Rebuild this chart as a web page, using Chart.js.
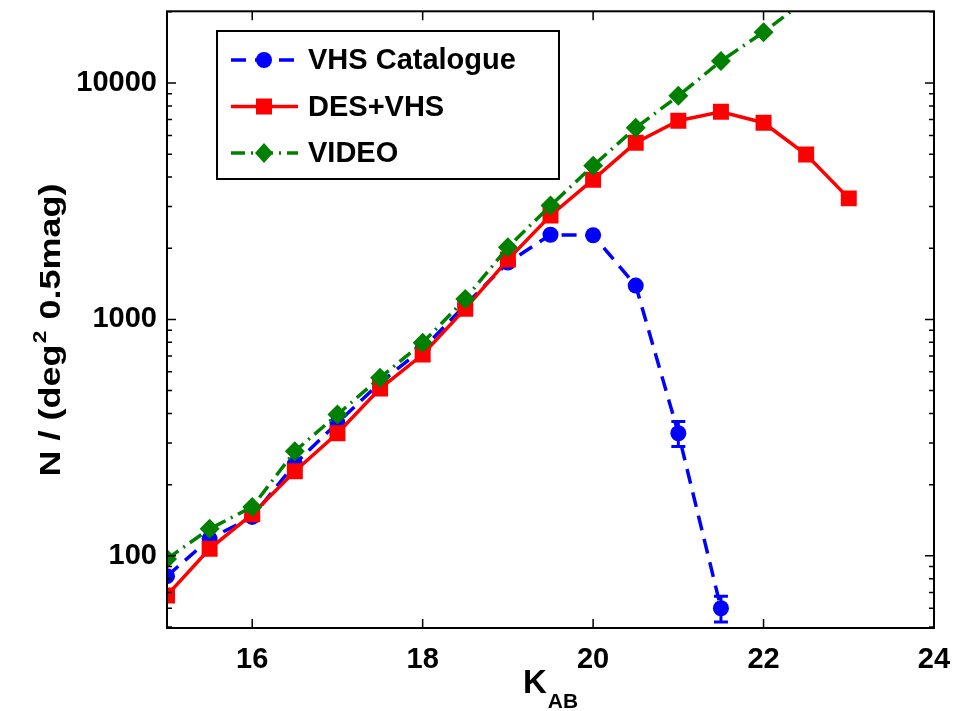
<!DOCTYPE html>
<html>
<head>
<meta charset="utf-8">
<script src="https://cdn.jsdelivr.net/npm/chart.js"></script>
<style>
  html, body { margin: 0; padding: 0; background: #fff; }
  #wrap { width: 971px; height: 711px; }
</style>
</head>
<body>
<div id="wrap"><canvas id="countsChart"></canvas></div>
<script>
// K_AB magnitude bins
const mags = [15, 15.5, 16, 16.5, 17, 17.5, 18, 18.5, 19, 19.5, 20, 20.5, 21, 21.5, 22, 22.5, 23];
// number counts per deg^2 per 0.5 mag
const vhsCounts = [82, 118, 146, 245, 365, 540, 750, 1150, 1740, 2280, 2270, 1390, 330, 60];
const vhsErrors = [0, 0, 0, 0, 0, 0, 0, 0, 0, 0, 0, 0, 40, 7.5];
const desVhsCounts = [68, 107, 150, 228, 330, 510, 710, 1110, 1790, 2750, 3900, 5590, 6920, 7550, 6790, 4980, 3250];
const videoCounts = [97, 130, 161, 277, 396, 567, 796, 1220, 2020, 3030, 4470, 6460, 8820, 12380, 16400, 22500];
const xTicks = [16, 18, 20, 22, 24];
const yTicks = [100, 1000, 10000];
const seriesNames = ['VHS Catalogue', 'DES+VHS', 'VIDEO'];

const FONT = "'Liberation Sans', Arial, Helvetica, sans-serif";
const BLUE = 'rgb(0,0,255)', RED = 'rgb(255,0,0)', GREEN = 'rgb(0,128,0)';
const DASH_BLUE = [15, 9], DASH_GREEN = [14, 6, 2, 6];

function toPoints(vals) {
    return vals.map((v, i) => ({ x: mags[i], y: v }));
}

function marker(ctx, style, x, y, color) {
    ctx.save();
    ctx.setLineDash([]);
    ctx.fillStyle = color;
    ctx.beginPath();
    if (style === 'circle') ctx.arc(x, y, 8, 0, Math.PI * 2);
    else if (style === 'rect') ctx.rect(x - 8, y - 8, 16, 16);
    else { ctx.moveTo(x, y - 10); ctx.lineTo(x + 9, y); ctx.lineTo(x, y + 10); ctx.lineTo(x - 9, y); ctx.closePath(); }
    ctx.fill();
    ctx.restore();
}

const decorations = {
    id: 'decorations',
    afterDatasetsDraw(chart) {
        // error bars on the VHS points
        const { ctx, chartArea: a, scales: { x, y } } = chart;
        ctx.save();
        ctx.beginPath();
        ctx.rect(a.left, a.top, a.right - a.left, a.bottom - a.top);
        ctx.clip();
        ctx.strokeStyle = BLUE;
        ctx.lineWidth = 3;
        vhsCounts.forEach((v, i) => {
            const e = vhsErrors[i];
            if (!e) return;
            const px = x.getPixelForValue(mags[i]);
            const hi = y.getPixelForValue(v + e), lo = y.getPixelForValue(v - e);
            ctx.beginPath();
            ctx.moveTo(px, hi); ctx.lineTo(px, lo);
            ctx.moveTo(px - 7, hi); ctx.lineTo(px + 7, hi);
            ctx.moveTo(px - 7, lo); ctx.lineTo(px + 7, lo);
            ctx.stroke();
        });
        ctx.restore();
    },
    afterDraw(chart) {
        const { ctx, chartArea: a, scales: { x, y } } = chart;
        ctx.save();
        ctx.strokeStyle = '#000';
        ctx.lineWidth = 1.5;
        ctx.beginPath();
        xTicks.forEach(v => {
            const px = x.getPixelForValue(v);
            ctx.moveTo(px, a.bottom); ctx.lineTo(px, a.bottom - 9);
            ctx.moveTo(px, a.top); ctx.lineTo(px, a.top + 9);
        });
        for (let d = 10; d <= 10000; d *= 10) {
            for (let m = 1; m < 10; m++) {
                const v = d * m;
                if (v < y.min || v > y.max) continue;
                const py = y.getPixelForValue(v);
                const len = m === 1 ? 9 : 5;
                ctx.moveTo(a.left, py); ctx.lineTo(a.left + len, py);
                ctx.moveTo(a.right, py); ctx.lineTo(a.right - len, py);
            }
        }
        ctx.stroke();
        ctx.lineWidth = 2;
        ctx.strokeRect(a.left, a.top, a.right - a.left, a.bottom - a.top);

        // legend
        const lx = 217, ly = 31, lw = 342, lh = 148;
        ctx.fillStyle = '#fff';
        ctx.fillRect(lx, ly, lw, lh);
        ctx.strokeRect(lx, ly, lw, lh);
        const styles = [
            { color: BLUE, dash: DASH_BLUE, pt: 'circle' },
            { color: RED, dash: [], pt: 'rect' },
            { color: GREEN, dash: DASH_GREEN, pt: 'rectRot' }
        ];
        ctx.font = 'bold 29px ' + FONT;
        ctx.textBaseline = 'middle';
        styles.forEach((s, i) => {
            const yy = 60 + i * 46.5;
            ctx.strokeStyle = s.color;
            ctx.lineWidth = 3.5;
            ctx.setLineDash(s.dash);
            ctx.beginPath();
            ctx.moveTo(231, yy); ctx.lineTo(298, yy);
            ctx.stroke();
            ctx.setLineDash([]);
            marker(ctx, s.pt, 264, yy, s.color);
            ctx.fillStyle = '#000';
            ctx.fillText(seriesNames[i], 308, yy + 1);
        });

        // x title with subscript
        ctx.fillStyle = '#000';
        ctx.textBaseline = 'alphabetic';
        ctx.font = 'bold 33px ' + FONT;
        const kW = ctx.measureText('K').width;
        ctx.font = 'bold 21px ' + FONT;
        const abW = ctx.measureText('AB').width;
        const cx = (a.left + a.right) / 2;
        const x0 = cx - (kW + abW + 1) / 2;
        ctx.font = 'bold 33px ' + FONT;
        ctx.fillText('K', x0, 693);
        ctx.font = 'bold 21px ' + FONT;
        ctx.fillText('AB', x0 + kW + 1, 708);

        // y title with superscript, rotated (stretched along its length like the original)
        ctx.translate(60, 330);
        ctx.rotate(-Math.PI / 2);
        ctx.scale(1.2, 1);
        const big = 'bold 30px ' + FONT, small = 'bold 19px ' + FONT;
        ctx.font = big;
        const p1 = 'N / (deg', p3 = ' 0.5mag)';
        const w1 = ctx.measureText(p1).width, w3 = ctx.measureText(p3).width;
        ctx.font = small;
        const w2 = ctx.measureText('2').width + 2;
        let tx = -(w1 + w2 + w3) / 2;
        ctx.font = big;
        ctx.fillText(p1, tx, 0);
        ctx.font = small;
        ctx.fillText('2', tx + w1 + 1, -14);
        ctx.font = big;
        ctx.fillText(p3, tx + w1 + w2, 0);
        ctx.restore();
    }
};

const ctx = document.getElementById('countsChart').getContext('2d');

new Chart(ctx, {
    type: 'line',
    data: {
        datasets: [{
            label: seriesNames[0],
            data: toPoints(vhsCounts),
            borderColor: BLUE,
            backgroundColor: BLUE,
            borderWidth: 3.5,
            borderDash: DASH_BLUE,
            pointStyle: 'circle',
            pointRadius: 8,
            pointBorderWidth: 0,
            order: 2,
            clip: 0
        }, {
            label: seriesNames[1],
            data: toPoints(desVhsCounts),
            borderColor: RED,
            backgroundColor: RED,
            borderWidth: 3.5,
            pointStyle: 'rect',
            pointRadius: 11.3,
            pointBorderWidth: 0,
            order: 1,
            clip: 0
        }, {
            label: seriesNames[2],
            data: toPoints(videoCounts),
            borderColor: GREEN,
            backgroundColor: GREEN,
            borderWidth: 3.5,
            borderDash: DASH_GREEN,
            pointStyle: 'rectRot',
            pointRadius: 10,
            pointBorderWidth: 0,
            order: 0,
            clip: 0
        }]
    },
    options: {
        responsive: true,
        maintainAspectRatio: false,
        animation: false,
        layout: { padding: { top: 6, right: 37, left: 0, bottom: 0 } },
        plugins: { legend: { display: false }, tooltip: { enabled: false } },
        elements: { line: { tension: 0 } },
        scales: {
            x: {
                type: 'linear',
                min: 15,
                max: 24,
                grid: { display: false, drawTicks: false },
                border: { display: false },
                afterBuildTicks: s => { s.ticks = xTicks.map(v => ({ value: v })); },
                afterFit: s => { s.height = 83; s.paddingLeft = 0; s.paddingRight = 0; },
                ticks: {
                    color: '#000',
                    padding: 15,
                    font: { family: FONT, size: 29, weight: 'bold' }
                }
            },
            y: {
                type: 'logarithmic',
                min: 49.5,
                max: 20100,
                grid: { display: false, drawTicks: false },
                border: { display: false },
                afterBuildTicks: s => { s.ticks = yTicks.map(v => ({ value: v })); },
                afterFit: s => { s.width = 167; s.paddingTop = 0; s.paddingBottom = 0; },
                ticks: {
                    color: '#000',
                    padding: 10,
                    font: { family: FONT, size: 29, weight: 'bold' },
                    callback: v => String(v)
                }
            }
        }
    },
    plugins: [decorations]
});
</script>
</body>
</html>
